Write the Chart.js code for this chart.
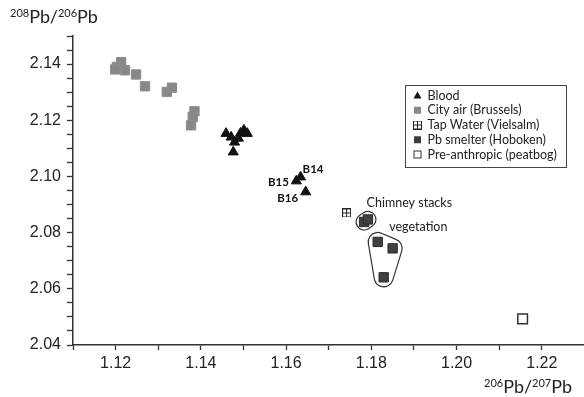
<!DOCTYPE html>
<html><head><meta charset="utf-8">
<script src="https://cdn.jsdelivr.net/npm/chart.js@4"></script>
<style>html,body{margin:0;padding:0;background:#fff;}#wrap{width:584px;height:397px;}</style>
</head><body><div id="wrap"><canvas id="c" width="584" height="397"></canvas></div>
<script>
// ---------- data ----------
const seriesNames = ['Blood', 'City air (Brussels)', 'Tap Water (Vielsalm)', 'Pb smelter (Hoboken)', 'Pre-anthropic (peatbog)'];
const bloodX = [1.1459, 1.1471, 1.1479, 1.1488, 1.1493, 1.1501, 1.1509, 1.1476, 1.1634, 1.1624, 1.1646];
const bloodY = [2.1153, 2.1140, 2.1122, 2.1136, 2.1154, 2.1165, 2.1153, 2.1087, 2.0998, 2.0984, 2.0945];
const bloodLabels = ['', '', '', '', '', '', '', '', 'B14', 'B15', 'B16'];
const cityAirX = [1.1203, 1.1213, 1.1222, 1.1199, 1.1248, 1.1269, 1.1320, 1.1332, 1.1385, 1.1381, 1.1377];
const cityAirY = [2.1390, 2.1407, 2.1378, 2.1381, 2.1363, 2.1321, 2.1301, 2.1316, 2.1232, 2.1212, 2.1182];
const tapWaterX = [1.1742];
const tapWaterY = [2.0870];
const smelterX = [1.1783, 1.1792, 1.1815, 1.1850, 1.1829];
const smelterY = [2.0838, 2.0847, 2.0767, 2.0744, 2.0641];
const smelterGroups = ['Chimney stacks', 'Chimney stacks', 'vegetation', 'vegetation', 'vegetation'];
const peatbogX = [1.2155];
const peatbogY = [2.0493];
const xMin = 1.11, xMax = 1.2299, xMinorStep = 0.01, xLabelStep = 0.02;
const yMin = 2.04, yMax = 2.15, yMinorStep = 0.005, yLabelStep = 0.02;
const xTitle = [{sup: '206'}, {t: 'Pb/'}, {sup: '207'}, {t: 'Pb'}];
const yTitle = [{sup: '208'}, {t: 'Pb/'}, {sup: '206'}, {t: 'Pb'}];

// ---------- styles ----------
const labelStyle = {
  B14: {dx: 2, dy: -8, align: 'left'},
  B15: {dx: -7.5, dy: 1.5, align: 'right'},
  B16: {dx: -7.5, dy: 6, align: 'right'}
};
const groupStyle = {
  'Chimney stacks': {R: 8, dx: 2.5, dy: -14.5},
  'vegetation': {R: 9.5, dx: 11.5, dy: -10.5}
};
const tickFont = {family: '"Liberation Sans", Arial, sans-serif', size: 16};
const textFont = 'Lato, "Open Sans", sans-serif';

const tapImg = document.createElement('canvas');
tapImg.width = 9; tapImg.height = 9;
(function () {
  const g = tapImg.getContext('2d');
  g.fillStyle = '#fff'; g.fillRect(0, 0, 9, 9);
  g.strokeStyle = '#222'; g.lineWidth = 1;
  g.strokeRect(0.5, 0.5, 8, 8);
  g.beginPath(); g.moveTo(4.5, 0.5); g.lineTo(4.5, 8.5); g.moveTo(0.5, 4.5); g.lineTo(8.5, 4.5); g.stroke();
})();

const toPts = (xs, ys) => xs.map((x, i) => ({x: x, y: ys[i]}));
const isMultiple = (v, step) => { const k = v / step; return Math.abs(k - Math.round(k)) < 1e-6; };

function hullPath(ctx, pts, R) {
  const p = pts.slice().sort((a, b) => a.x - b.x || a.y - b.y);
  const cross = (o, a, b) => (a.x - o.x) * (b.y - o.y) - (a.y - o.y) * (b.x - o.x);
  const lower = [], upper = [];
  for (const q of p) { while (lower.length >= 2 && cross(lower[lower.length - 2], lower[lower.length - 1], q) <= 0) lower.pop(); lower.push(q); }
  for (let i = p.length - 1; i >= 0; i--) { const q = p[i]; while (upper.length >= 2 && cross(upper[upper.length - 2], upper[upper.length - 1], q) <= 0) upper.pop(); upper.push(q); }
  upper.pop(); lower.pop();
  let h = lower.concat(upper);
  let area = 0;
  for (let i = 0; i < h.length; i++) { const a = h[i], b = h[(i + 1) % h.length]; area += a.x * b.y - b.x * a.y; }
  if (area < 0) h.reverse();
  const n = h.length;
  ctx.beginPath();
  for (let i = 0; i < n; i++) {
    const pr = h[(i - 1 + n) % n], c = h[i], nx = h[(i + 1) % n];
    const a1 = Math.atan2(-(c.x - pr.x), c.y - pr.y);
    let a2 = Math.atan2(-(nx.x - c.x), nx.y - c.y);
    while (a2 < a1) a2 += Math.PI * 2;
    ctx.arc(c.x, c.y, R, a1, a2, false);
  }
  ctx.closePath();
}

function drawIso(ctx, parts, x, y, align) {
  const big = '18px ' + textFont, small = '11px ' + textFont;
  let total = 0;
  parts.forEach(p => { ctx.font = p.sup ? small : big; total += ctx.measureText(p.sup || p.t).width; });
  let cx = align === 'right' ? x - total : x;
  ctx.fillStyle = '#222'; ctx.textAlign = 'left'; ctx.textBaseline = 'alphabetic';
  parts.forEach(p => {
    ctx.font = p.sup ? small : big;
    const s = p.sup || p.t;
    ctx.fillText(s, cx, p.sup ? y - 6.5 : y);
    cx += ctx.measureText(s).width;
  });
}

const extras = {
  id: 'extras',
  afterDatasetsDraw(chart) {
    const ctx = chart.ctx;
    ctx.save();
    const bm = chart.getDatasetMeta(0);
    ctx.font = 'bold 11.5px ' + textFont; ctx.fillStyle = '#111'; ctx.textBaseline = 'middle';
    bloodLabels.forEach((lab, i) => {
      if (!lab) return;
      const el = bm.data[i], st = labelStyle[lab];
      ctx.textAlign = st.align;
      ctx.fillText(lab, el.x + st.dx, el.y + st.dy);
    });
    const sm = chart.getDatasetMeta(3);
    const groups = {};
    smelterGroups.forEach((g, i) => { (groups[g] = groups[g] || []).push({x: sm.data[i].x, y: sm.data[i].y}); });
    Object.keys(groups).forEach(g => {
      const st = groupStyle[g], pts = groups[g];
      ctx.strokeStyle = '#333'; ctx.lineWidth = 1.2;
      hullPath(ctx, pts, st.R); ctx.stroke();
      ctx.font = '12.5px ' + textFont; ctx.fillStyle = '#222';
      ctx.textAlign = 'left'; ctx.textBaseline = 'alphabetic';
      ctx.fillText(g, pts[0].x + st.dx, pts[0].y + st.dy);
    });
    ctx.restore();
  },
  afterDraw(chart) {
    const ctx = chart.ctx;
    ctx.save();
    drawIso(ctx, yTitle, 10, 23, 'left');
    drawIso(ctx, xTitle, 572, 393, 'right');
    const bx = 405, by = 85, bw = 161, bh = 82;
    ctx.fillStyle = '#fff'; ctx.fillRect(bx, by, bw, bh);
    ctx.strokeStyle = '#444'; ctx.lineWidth = 1; ctx.strokeRect(bx + 0.5, by + 0.5, bw, bh);
    const mx = 417.5;
    seriesNames.forEach((name, i) => {
      const cy = 95.5 + i * 14.75;
      if (i === 0) {
        ctx.fillStyle = '#111'; ctx.beginPath();
        ctx.moveTo(mx, cy - 4); ctx.lineTo(mx + 4, cy + 3); ctx.lineTo(mx - 4, cy + 3); ctx.closePath(); ctx.fill();
      } else if (i === 1) {
        ctx.fillStyle = '#888'; ctx.fillRect(mx - 3.5, cy - 3.5, 7, 7);
      } else if (i === 2) {
        ctx.drawImage(tapImg, mx - 4.5, cy - 4.5, 9, 9);
      } else if (i === 3) {
        ctx.fillStyle = '#3c3c3c'; ctx.fillRect(mx - 3.5, cy - 3.5, 7, 7);
      } else {
        ctx.strokeStyle = '#333'; ctx.lineWidth = 1; ctx.strokeRect(mx - 3.5, cy - 3.5, 7, 7);
      }
      ctx.font = '12.5px ' + textFont; ctx.fillStyle = '#222';
      ctx.textAlign = 'left'; ctx.textBaseline = 'middle';
      ctx.fillText(name, 427.5, cy);
    });
    ctx.restore();
  }
};

new Chart(document.getElementById('c'), {
  type: 'scatter',
  data: {
    datasets: [
      {label: seriesNames[0], data: toPts(bloodX, bloodY), pointStyle: 'triangle', pointRadius: 5.8, backgroundColor: '#111', borderColor: '#111', borderWidth: 1},
      {label: seriesNames[1], data: toPts(cityAirX, cityAirY), pointStyle: 'rect', pointRadius: 6.6, backgroundColor: '#888', borderColor: '#8e8e8e', borderWidth: 1},
      {label: seriesNames[2], data: toPts(tapWaterX, tapWaterY), pointStyle: tapImg, pointRadius: 5},
      {label: seriesNames[3], data: toPts(smelterX, smelterY), pointStyle: 'rect', pointRadius: 6.6, backgroundColor: '#404040', borderColor: '#2a2a2a', borderWidth: 1},
      {label: seriesNames[4], data: toPts(peatbogX, peatbogY), pointStyle: 'rect', pointRadius: 6.8, backgroundColor: '#fff', borderColor: '#333', borderWidth: 1.5}
    ]
  },
  options: {
    responsive: false, animation: false, devicePixelRatio: 1,
    layout: {autoPadding: false, padding: {top: 36, left: 0, right: 0, bottom: 0}},
    plugins: {legend: {display: false}, tooltip: {enabled: false}},
    scales: {
      x: {
        type: 'linear', min: xMin, max: xMax, bounds: 'data',
        afterFit: s => { s.height = 52; },
        grid: {drawOnChartArea: false, drawTicks: true, tickLength: 5, tickColor: '#333', tickWidth: 1.3},
        border: {display: true, color: '#333', width: 1.5},
        ticks: {stepSize: xMinorStep, autoSkip: false, includeBounds: false, maxRotation: 0, padding: 4, color: '#222', font: tickFont,
          callback: v => isMultiple(v, xLabelStep) ? v.toFixed(2) : ''}
      },
      y: {
        type: 'linear', min: yMin, max: yMax, bounds: 'data',
        afterFit: s => { s.width = 73; },
        grid: {drawOnChartArea: false, drawTicks: true, tickLength: 6, tickColor: '#333', tickWidth: 1.3},
        border: {display: true, color: '#333', width: 1.5},
        ticks: {stepSize: yMinorStep, autoSkip: false, includeBounds: false, padding: 6, color: '#222', font: tickFont,
          callback: v => isMultiple(v, yLabelStep) ? v.toFixed(2) : ''}
      }
    }
  },
  plugins: [extras]
});
</script></body></html>
